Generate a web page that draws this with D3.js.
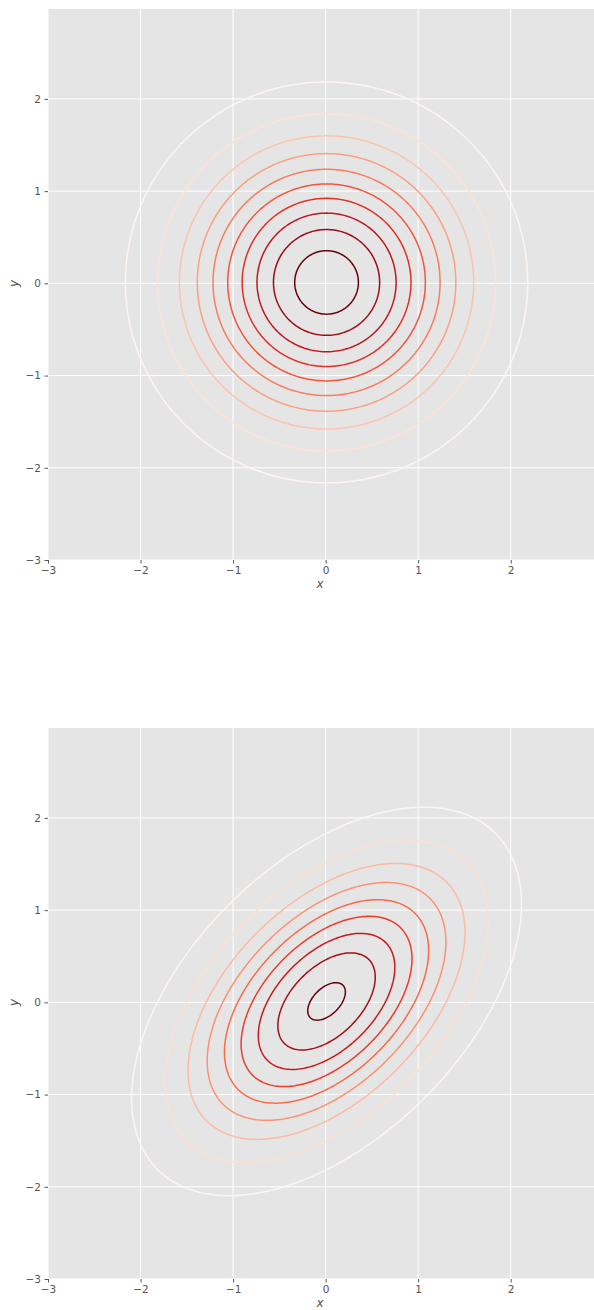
<!DOCTYPE html>
<html>
<head>
<meta charset="utf-8">
<script src="https://cdn.jsdelivr.net/npm/d3@7"></script>
<style>
  body { margin: 0; background: #fff; }
  svg { display: block; }
  .tick text { font-family: "DejaVu Sans", sans-serif; font-size: 10.5px; fill: #555; }
  .axlabel { font-family: "DejaVu Sans", sans-serif; font-size: 12px; fill: #555; font-style: italic; }
</style>
</head>
<body>
<div id="chart"></div>
<script>
// distribution parameters and contour levels
const meanTop = [0, 0];
const covTop = [[1, 0], [0, 1]];
const levelsTop = [0.015, 0.03, 0.045, 0.06, 0.075, 0.09, 0.105, 0.12, 0.135, 0.15];

const meanBottom = [0, 0];
const covBottom = [[1, 0.5], [0.5, 1]];
const levelsBottom = [0.02, 0.04, 0.06, 0.08, 0.1, 0.12, 0.14, 0.16, 0.18];

const xTicks = [-3, -2, -1, 0, 1, 2];
const yTicks = [-3, -2, -1, 0, 1, 2];

// grid the density is sampled on
const gridMin = -3, gridMax = 3, gridStep = 0.02;

// matplotlib "Reds"
const redsStops = ["#fff5f0", "#fee0d2", "#fcbba1", "#fc9272", "#fb6a4a",
                   "#ef3b2c", "#cb181d", "#a50f15", "#67000d"];

const width = 594, height = 1310;
const xDomain = [-3, 2.9], yDomain = [-3, 2.975];

const svg = d3.select("#chart").append("svg")
    .attr("width", width)
    .attr("height", height);

const reds = d3.scaleLinear()
    .domain(d3.range(redsStops.length).map(i => i / (redsStops.length - 1)))
    .range(redsStops)
    .interpolate(d3.interpolateRgb);

function density(mean, cov) {
  const [[a, b], [c, d]] = cov;
  const det = a * d - b * c;
  const norm = 1 / (2 * Math.PI * Math.sqrt(det));
  return (x, y) => {
    const dx = x - mean[0], dy = y - mean[1];
    const q = (d * dx * dx - (b + c) * dx * dy + a * dy * dy) / det;
    return norm * Math.exp(-q / 2);
  };
}

function drawPanel(top, mean, cov, levels, id) {
  const left = 48, right = 594, bottom = top + 551;

  const x = d3.scaleLinear().domain(xDomain).range([left, right]);
  const y = d3.scaleLinear().domain(yDomain).range([bottom, top]);

  const g = svg.append("g");

  g.append("clipPath").attr("id", id)
    .append("rect")
      .attr("x", left).attr("y", top)
      .attr("width", right - left).attr("height", bottom - top);

  g.append("rect")
      .attr("x", left).attr("y", top)
      .attr("width", right - left).attr("height", bottom - top)
      .attr("fill", "#e5e5e5");

  // grid lines
  g.selectAll("line.gx").data(xTicks).join("line")
      .attr("class", "gx")
      .attr("x1", d => x(d)).attr("x2", d => x(d))
      .attr("y1", top).attr("y2", bottom)
      .attr("stroke", "#fff").attr("stroke-width", 1);
  g.selectAll("line.gy").data(yTicks).join("line")
      .attr("class", "gy")
      .attr("y1", d => y(d)).attr("y2", d => y(d))
      .attr("x1", left).attr("x2", right)
      .attr("stroke", "#fff").attr("stroke-width", 1);

  // sample density on grid, then contour it
  const n = Math.round((gridMax - gridMin) / gridStep) + 1;
  const f = density(mean, cov);
  const values = new Float64Array(n * n);
  for (let j = 0; j < n; j++) {
    for (let i = 0; i < n; i++) {
      values[j * n + i] = f(gridMin + i * gridStep, gridMin + j * gridStep);
    }
  }
  const contours = d3.contours().size([n, n]).thresholds(levels)(values);

  const proj = d3.geoTransform({
    point: function(px, py) {
      this.stream.point(x(gridMin + px * gridStep), y(gridMin + py * gridStep));
    }
  });
  const path = d3.geoPath(proj);

  g.append("g").attr("clip-path", `url(#${id})`)
    .selectAll("path").data(contours).join("path")
      .attr("d", path)
      .attr("fill", "none")
      .attr("stroke", (d, i) => reds(i / (levels.length - 1)))
      .attr("stroke-width", 1.5);

  // axes
  const xAxis = g.append("g")
      .attr("transform", `translate(0,${bottom})`)
      .call(d3.axisBottom(x).tickValues(xTicks).tickSize(3.5).tickPadding(3.5)
        .tickFormat(d => d < 0 ? "\u2212" + Math.abs(d) : d));
  const yAxis = g.append("g")
      .attr("transform", `translate(${left},0)`)
      .call(d3.axisLeft(y).tickValues(yTicks).tickSize(3.5).tickPadding(3.5)
        .tickFormat(d => d < 0 ? "\u2212" + Math.abs(d) : d));
  [xAxis, yAxis].forEach(a => {
    a.select(".domain").remove();
    a.selectAll(".tick line").attr("stroke", "#555");
  });

  g.append("text").attr("class", "axlabel")
      .attr("x", (left + right) / 2 - 1).attr("y", bottom + 28)
      .attr("text-anchor", "middle")
      .text("x");
  g.append("text").attr("class", "axlabel")
      .attr("transform", `translate(18,${y(0)}) rotate(-90)`)
      .attr("text-anchor", "middle")
      .text("y");
}

drawPanel(9, meanTop, covTop, levelsTop, "clipTop");
drawPanel(728, meanBottom, covBottom, levelsBottom, "clipBottom");
</script>
</body>
</html>
